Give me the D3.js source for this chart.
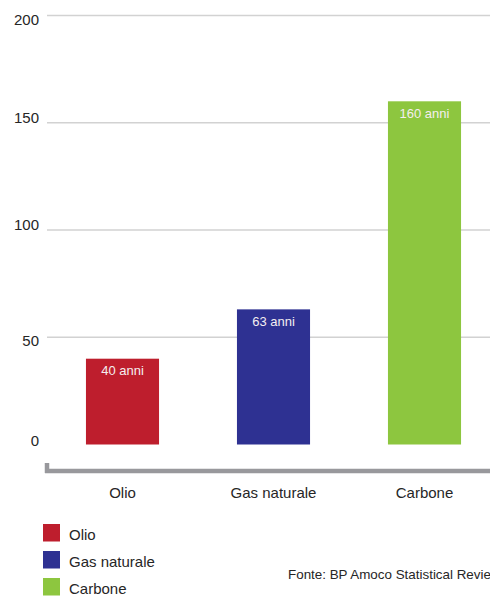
<!DOCTYPE html>
<html><head><meta charset="utf-8">
<script src="https://cdn.jsdelivr.net/npm/d3@7"></script>
<style>
html,body{margin:0;padding:0;background:#fff;overflow:hidden;}
svg{display:block;font-family:"Liberation Sans",Arial,sans-serif;}
</style></head>
<body>
<svg id="chart" width="490" height="597"></svg>
<script>
const categories = ["Olio", "Gas naturale", "Carbone"];
const values = [40, 63, 160];
const barLabels = ["40 anni", "63 anni", "160 anni"];
const colors = ["#be1e2d", "#2e3192", "#8dc63f"];
const yTicks = [0, 50, 100, 150, 200];
const source = "Fonte: BP Amoco Statistical Review";

const svg = d3.select("#chart");
const x = d3.scaleBand().domain(categories).range([47, 500]).paddingInner(0.516).paddingOuter(0.258);
const y = d3.scaleLinear().domain([0, 200]).range([444.5, 15.5]);

// gridlines (except 0)
svg.append("g").selectAll("line").data(yTicks.filter(d => d > 0)).join("line")
  .attr("x1", 47).attr("x2", 490)
  .attr("y1", d => y(d)).attr("y2", d => y(d))
  .attr("stroke", "#d2d2d2").attr("stroke-width", 1.3);

// y labels (the original's labels sit slightly off their gridlines)
const labelShift = {0: -4, 50: 3.5, 100: -5, 150: -5, 200: 4.5};
svg.append("g").selectAll("text").data(yTicks).join("text")
  .attr("x", 39).attr("y", d => y(d) + labelShift[d]).attr("dy", "0.35em")
  .attr("text-anchor", "end").attr("font-size", 15).attr("fill", "#262626")
  .text(d => d);

// bars
svg.append("g").selectAll("rect").data(values).join("rect")
  .attr("x", (d, i) => x(categories[i])).attr("width", x.bandwidth())
  .attr("y", d => y(d)).attr("height", d => y(0) - y(d))
  .attr("fill", (d, i) => colors[i]);

// bar labels
svg.append("g").selectAll("text").data(values).join("text")
  .attr("x", (d, i) => x(categories[i]) + x.bandwidth() / 2)
  .attr("y", d => y(d) + 12).attr("dy", "0.35em")
  .attr("text-anchor", "middle").attr("font-size", 13).attr("fill", "#f4eef0")
  .text((d, i) => barLabels[i]);

// bottom axis line
svg.append("line").attr("x1", 45).attr("x2", 490).attr("y1", 471).attr("y2", 471)
  .attr("stroke", "#98989c").attr("stroke-width", 4.3);
svg.append("line").attr("x1", 47).attr("x2", 47).attr("y1", 463).attr("y2", 473)
  .attr("stroke", "#98989c").attr("stroke-width", 4.5);

// category labels
svg.append("g").selectAll("text").data(categories).join("text")
  .attr("x", d => x(d) + x.bandwidth() / 2).attr("y", 493).attr("dy", "0.35em")
  .attr("text-anchor", "middle").attr("font-size", 15).attr("fill", "#262626")
  .text(d => d);

// legend
const lg = svg.append("g").selectAll("g").data(categories).join("g")
  .attr("transform", (d, i) => `translate(43, ${524 + i * 27})`);
lg.append("rect").attr("width", 17).attr("height", 17.5).attr("fill", (d, i) => colors[i]);
lg.append("text").attr("x", 26).attr("y", 10.5).attr("dy", "0.35em")
  .attr("font-size", 15).attr("fill", "#262626").text(d => d);

// source (runs off the right edge, as in the original)
svg.append("text").attr("x", 288).attr("y", 574.5).attr("dy", "0.35em")
  .attr("font-size", 13.4).attr("fill", "#262626").text(source);
</script>
</body></html>
